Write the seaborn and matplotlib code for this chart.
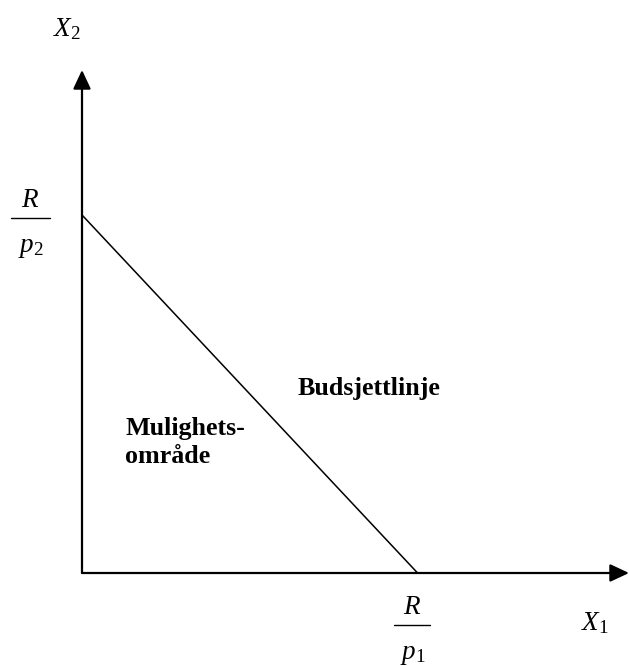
import numpy as np
import pandas as pd
import matplotlib
matplotlib.use("Agg")
import matplotlib.pyplot as plt
import seaborn as sns
from matplotlib.lines import Line2D

## Budget line diagram (budsjettlinje)
# income and prices
R = 100
p1 = 10
p2 = 10
# axis extents (same units as the goods)
x_max = 16.3
y_max = 14.05

x_label = "$X_{\\mathit{1}}$"
y_label = "$X_{\\mathit{2}}$"
line_label = "Budsjettlinje"
area_label = "Mulighets-\nområde"

budget = pd.DataFrame({"X1": [0, R / p1], "X2": [R / p2, 0]})

sns.set_theme(style="white")
plt.rcParams["font.family"] = ["Liberation Serif", "DejaVu Serif"]
plt.rcParams["text.color"] = "black"
plt.rcParams["mathtext.fontset"] = "custom"
plt.rcParams["mathtext.rm"] = "Liberation Serif"
plt.rcParams["mathtext.it"] = "Liberation Serif:italic"

W, H = 629, 666
fig = plt.figure(figsize=(W / 100, H / 100), dpi=100)
# origin of the diagram sits at pixel (82, 573)
ax = fig.add_axes([82 / W, (H - 573) / H, (W - 82) / W, (573 - 70) / H])
ax.set_xlim(0, x_max)
ax.set_ylim(0, y_max)
ax.axis("off")

sns.lineplot(data=budget, x="X1", y="X2", color="black", lw=1.1, ax=ax, clip_on=False)

# axes with arrows
arrow = dict(arrowstyle="-|>,head_length=0.96,head_width=0.45", mutation_scale=12,
             color="black", lw=1.6, shrinkA=0, shrinkB=0)
ax.annotate("", xy=(x_max, 0), xytext=(0, 0), arrowprops=arrow, annotation_clip=False)
ax.annotate("", xy=(0, y_max), xytext=(0, 0), arrowprops=arrow, annotation_clip=False)

def px(x, y):
    # pixel position (from top left) -> figure fraction
    return x / W, 1 - y / H

fs = 19.5
fig.text(*px(67, 36), y_label, fontsize=fs, ha="center", va="baseline", color="black")
fig.text(*px(595, 630), x_label, fontsize=fs, ha="center", va="baseline", color="black")

# fractions R/p2 and R/p1
def fraction(cx, y_bar, half, sub):
    fig.text(*px(cx, y_bar - 11), "$R$", fontsize=fs, ha="center", va="baseline", color="black")
    x0, y0 = px(cx - half, y_bar)
    x1, _ = px(cx + half, y_bar)
    fig.add_artist(Line2D([x0, x1], [y0, y0], color="black", lw=1.0, transform=fig.transFigure))
    fig.text(*px(cx + 1, y_bar + 34), "$p_{%s}$" % sub, fontsize=fs, ha="center",
             va="baseline", color="black")

fraction(30, 218, 19.5, "2")
fraction(412, 625, 18.5, "1")

fig.text(*px(298, 395), line_label, fontsize=18.7, fontweight="bold", va="baseline",
         color="black")
fig.text(*px(125, 463), area_label, fontsize=18.7, fontweight="bold", va="baseline",
         linespacing=1.25, color="black")

fig.savefig("out.png", dpi=100)
